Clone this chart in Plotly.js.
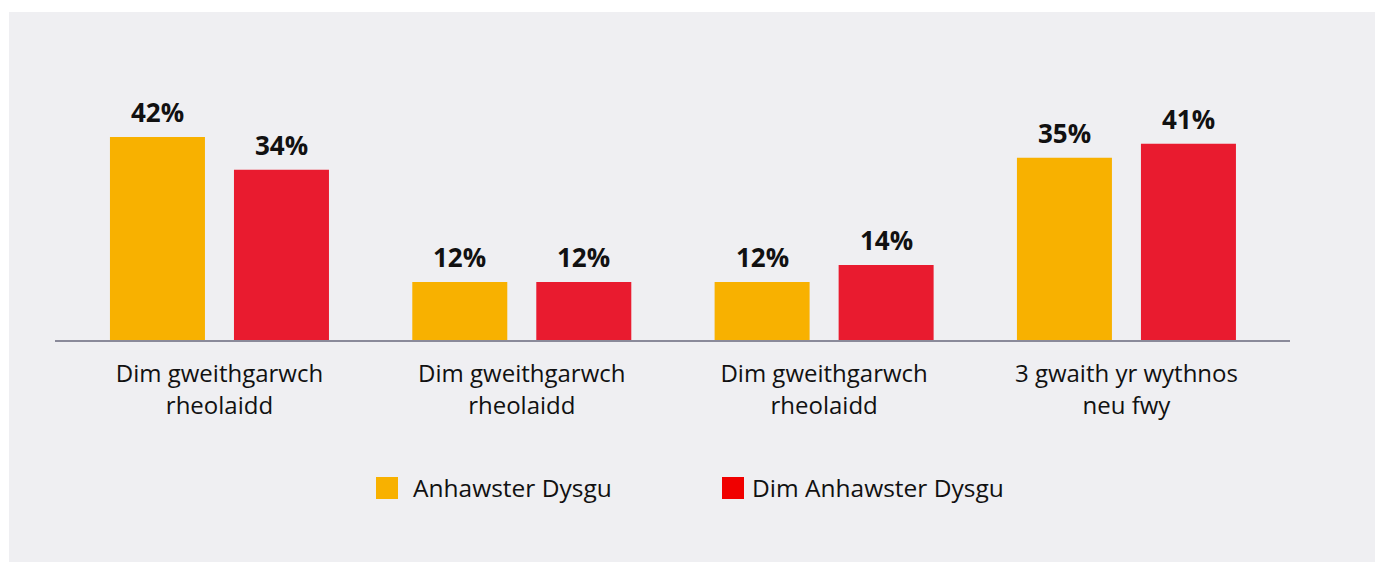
<!DOCTYPE html>
<html><head><meta charset="utf-8">
<script src="https://cdn.plot.ly/plotly-3.0.1.min.js"></script>
<style>
html,body{margin:0;padding:0;background:#ffffff;width:1375px;height:562px;overflow:hidden}
#chart{position:absolute;left:9px;top:12px;width:1366px;height:550px}
</style></head>
<body><div id="chart"></div>
<script>
// ---- data ----
const categories = ["Dim gweithgarwch<br>rheolaidd", "Dim gweithgarwch<br>rheolaidd", "Dim gweithgarwch<br>rheolaidd", "3 gwaith yr wythnos<br>neu fwy"];
const seriesNames = ["Anhawster Dysgu", "Dim Anhawster Dysgu"];
const anhawsterValues = [42, 12, 12, 37.7];
const dimAnhawsterValues = [35.2, 12, 15.5, 40.6];
const anhawsterLabels = ["42%", "12%", "12%", "35%"];
const dimAnhawsterLabels = ["34%", "12%", "14%", "41%"];

// ---- style ----
const barColors = ["#F8B100", "#E91B2F"];
const legendColors = ["#F8B100", "#F00000"];
const FONT = "Open Sans, Noto Sans, sans-serif";
const W = 1366, H = 550;
const M = {l: 46, r: 85, t: 60, b: 222};
const plotW = W - M.l - M.r, plotH = H - M.t - M.b;
const bargap = 0.1796, bargroupgap = 0.234;
const slotOffset = (1 - bargap) / 4;
const xs = categories.map((_, i) => i);

const seriesValues = [anhawsterValues, dimAnhawsterValues];
const seriesLabels = [anhawsterLabels, dimAnhawsterLabels];

const traces = seriesNames.map((name, k) => ({
  type: 'bar', name: name, x: xs, y: seriesValues[k],
  marker: {color: barColors[k]}, hoverinfo: 'skip', showlegend: false
}));

const annotations = [];
seriesValues.forEach((vals, k) => {
  vals.forEach((v, j) => {
    annotations.push({
      x: j + (k === 0 ? -slotOffset : slotOffset), y: v, xref: 'x', yref: 'y',
      text: seriesLabels[k][j], showarrow: false, yanchor: 'bottom', xanchor: 'center',
      yshift: 5, font: {family: FONT, size: 26, color: '#111111', weight: 700}
    });
  });
});

// manual legend (pixel -> paper)
const px = x => (x - M.l) / plotW;
const py = y => (H - M.b - y) / plotH;
const legendItems = [
  {sq: [367, 389], tx: 402},
  {sq: [713, 735], tx: 741}
];
const legendTop = 465, legendBot = 487, legendMid = 475;
const shapes = [];
legendItems.forEach((it, k) => {
  shapes.push({type: 'rect', xref: 'paper', yref: 'paper',
    x0: px(it.sq[0]), x1: px(it.sq[1]), y0: py(legendBot), y1: py(legendTop),
    fillcolor: legendColors[k], line: {width: 0}});
  annotations.push({xref: 'paper', yref: 'paper', x: px(it.tx), y: py(legendMid),
    xanchor: 'left', yanchor: 'middle', showarrow: false, text: seriesNames[k],
    font: {family: FONT, size: 24.5, color: '#111111'}});
});

const layout = {
  width: W, height: H,
  paper_bgcolor: '#efeff2', plot_bgcolor: 'rgba(0,0,0,0)',
  margin: M,
  barmode: 'group', bargap: bargap, bargroupgap: bargroupgap,
  showlegend: false,
  xaxis: {
    range: [-0.544, 3.541], tickvals: xs, ticktext: categories,
    showline: true, linecolor: '#8a8a9a', linewidth: 1.5,
    showgrid: false, zeroline: false, ticks: '', ticklabelstandoff: 12,
    tickfont: {family: FONT, size: 24, color: '#111111'}, fixedrange: true
  },
  yaxis: {range: [0, plotH / 4.8333], visible: false, showgrid: false, zeroline: false, fixedrange: true},
  annotations: annotations, shapes: shapes
};

Plotly.newPlot('chart', traces, layout, {displayModeBar: false, staticPlot: true});
</script></body></html>
